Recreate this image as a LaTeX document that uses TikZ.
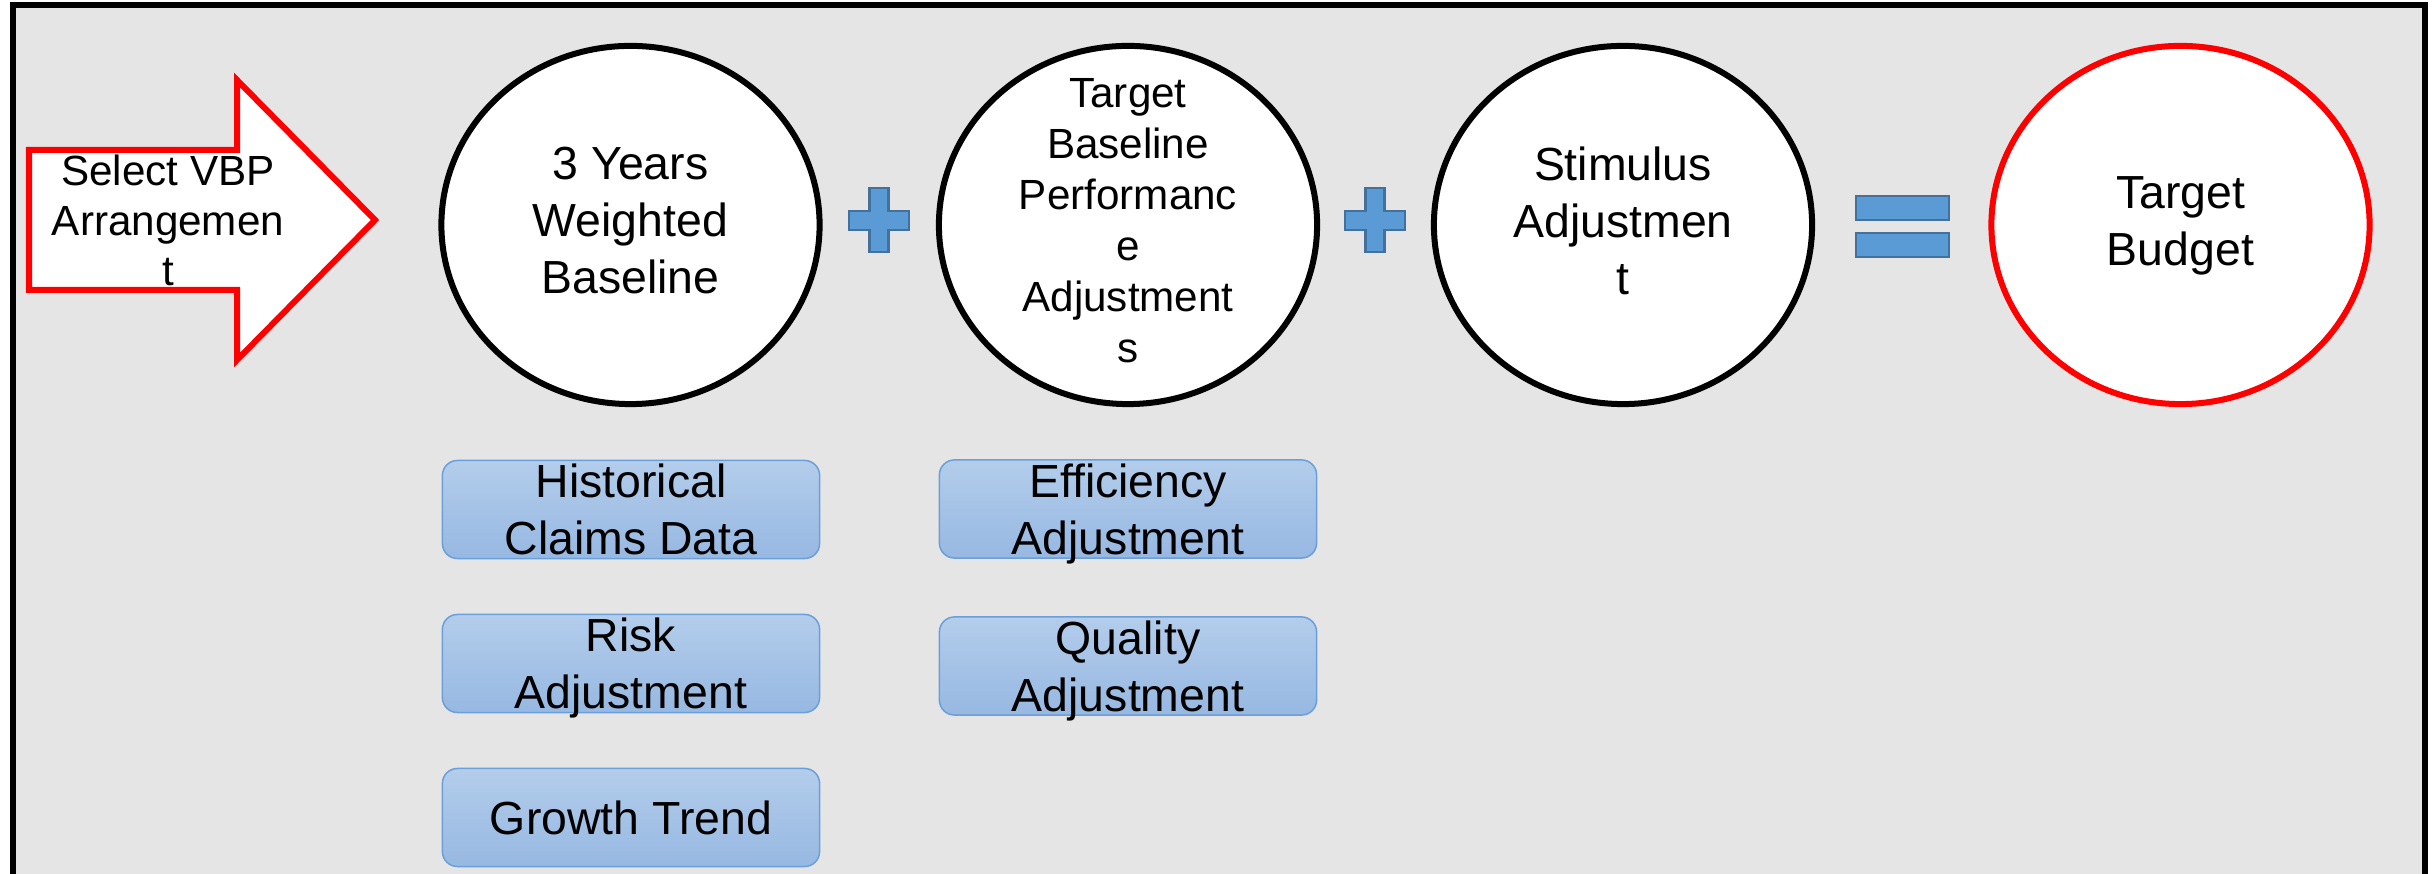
\documentclass[tikz,border=0pt]{standalone}
\usepackage{fontspec}
\setmainfont{Liberation Sans}
\usetikzlibrary{shapes.geometric, positioning}

\definecolor{panelgrey}{HTML}{E5E5E5}
\definecolor{signblue}{HTML}{5B9BD5}
\definecolor{signedge}{HTML}{41719C}
\definecolor{boxtop}{HTML}{B3CDEB}
\definecolor{boxbottom}{HTML}{97B8E2}
\definecolor{boxedge}{HTML}{6A9FDA}

\tikzset{
  bigtext/.style={align=center, font=\fontsize{13.2}{16.2}\selectfont, inner sep=0pt},
  smalltext/.style={align=center, font=\fontsize{12}{14.5}\selectfont, inner sep=0pt},
  ring/.style={draw, ellipse, line width=0.06cm, fill=white, minimum width=3.78cm, minimum height=3.58cm, inner sep=0pt},
  goal/.style={ring, draw=red},
  factor/.style={bigtext, draw=boxedge, line width=0.015cm, rounded corners=0.15cm, top color=boxtop, bottom color=boxbottom, minimum width=3.77cm, minimum height=0.98cm},
  sign/.style={draw=signedge, fill=signblue, line width=0.025cm}
}

\begin{document}
\begin{tikzpicture}[x=0.01cm, y=-0.01cm]

            % Page and grey panel
            \useasboundingbox (0,0) rectangle (2433,874);
            \fill[white] (0,0) rectangle (2433,874);
            \fill[panelgrey] (13,5.5) rectangle (2425,874);
            \draw[line width=0.06cm, line join=miter] (13,874) -- (13,5.5) -- (2425,5.5) -- (2425,874);

            % Draw the start arrow
            \draw[draw=red, fill=white, line width=0.06cm, line join=miter] (29,150) -- (237,150) -- (237,80) -- (375,220) -- (237,360) -- (237,290) -- (29,290) -- cycle;
            \node[smalltext, font=\fontsize{12}{14.2}\selectfont] (select) at (168,220.5) {Select VBP\\Arrangemen\\t};

            % Draw the four terms
            \node[ring] (base) at (630.5,225) {};
            \node[ring] (perf) at (1128,225) {};
            \node[ring] (stim) at (1623,225) {};
            \node[goal] (budget) at (2180.5,225) {};

            \node[bigtext] (basetext) at (630.5,221) {3 Years\\Weighted\\Baseline};
            \node[smalltext] (perftext) at (1128,221) {Target\\Baseline\\Performanc\\e\\Adjustment\\s};
            \node[bigtext] (stimtext) at (1623,221) {Stimulus\\Adjustmen\\t};
            \node[bigtext] (budgettext) at (2180.5,226) {Target\\Budget};

            % Draw the plus and equal signs
            \foreach \cx in {879,1375}
                \draw[sign] (\cx-30,211) -- (\cx-9.5,211) -- (\cx-9.5,188) -- (\cx+9.5,188) -- (\cx+9.5,211) -- (\cx+30,211) -- (\cx+30,230) -- (\cx+9.5,230) -- (\cx+9.5,252) -- (\cx-9.5,252) -- (\cx-9.5,230) -- (\cx-30,230) -- cycle;

            \draw[sign] (1856,196) rectangle (1949,220);
            \draw[sign] (1856,233) rectangle (1949,257);

            % Draw the inputs of the baseline
            \node[factor] (claims) at (631,509.5) {Historical\\Claims Data};
            \node[factor] (risk) at (631,663.5) {Risk\\\smash{Adjustment}};
            \node[factor] (trend) at (631,817.5) {Growth Trend};

            % Draw the inputs of the performance adjustment
            \node[factor] (efficiency) at (1128,509) {Efficiency\\\smash{Adjustment}};
            \node[factor] (quality) at (1128,666) {Quality\\\smash{Adjustment}};

\end{tikzpicture}
\end{document}
